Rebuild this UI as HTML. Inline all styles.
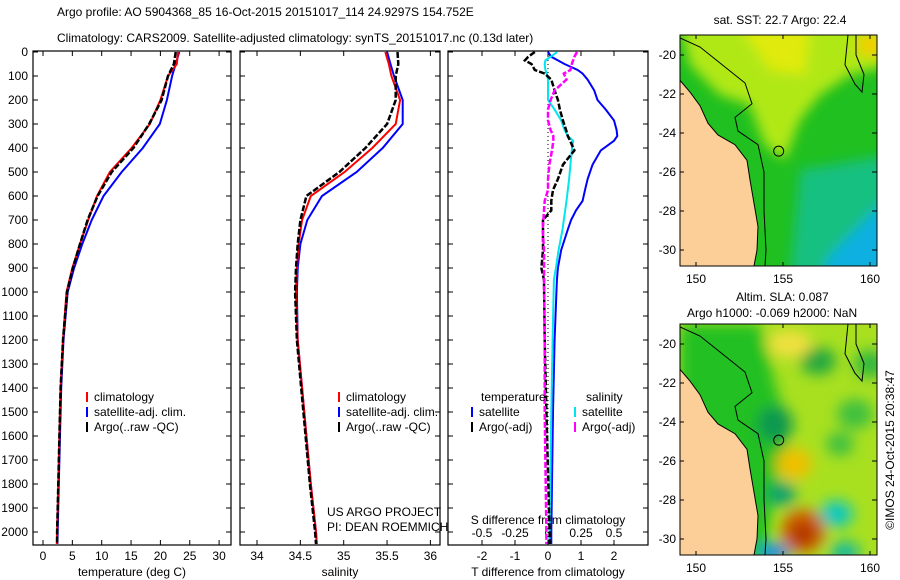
<!DOCTYPE html>
<html><head><meta charset="utf-8"><style>
body{margin:0;background:#fff;font-family:"Liberation Sans",sans-serif}
svg{display:block}
text{font-family:"Liberation Sans",sans-serif;font-size:12px;fill:#000}
</style></head><body>
<svg id="c" width="900" height="580" xmlns="http://www.w3.org/2000/svg">
<text x="57" y="16" font-size="13">Argo profile: AO 5904368_85 16-Oct-2015 20151017_114 24.9297S 154.752E</text>
<text x="57" y="42" font-size="13">Climatology: CARS2009. Satellite-adjusted climatology: synTS_20151017.nc (0.13d later)</text>
</svg>
<script>
const depthTicks=[0,100,200,300,400,500,600,700,800,900,1000,1100,1200,1300,1400,1500,1600,1700,1800,1900,2000];
const tempTicks=[0,5,10,15,20,25,30];
const salTicks=[34,34.5,35,35.5,36];
const tdTicks=[-2,-1,0,1,2];
const sdTicks=[-0.5,-0.25,0,0.25,0.5];
const depths=[0,50,100,200,300,400,500,600,700,800,900,1000,1200,1400,1600,1800,2000,2050];
const tempClim=[23,22.8,21.3,20.0,18.2,15.1,11.4,9.2,7.7,6.3,5.0,4.0,3.4,3.0,2.8,2.6,2.4,2.35];
const tempSat=[23.2,22.6,22.0,21.1,19.9,17.0,13.4,10.3,8.3,6.7,5.3,4.2,3.5,3.1,2.9,2.7,2.5,2.45];
const tempArgo=[22.6,22.3,21.3,20.2,18.1,15.4,11.7,9.3,7.6,6.3,5.1,4.1,3.4,3.0,2.8,2.6,2.4,2.4];
const salClim=[35.48,35.52,35.55,35.65,35.6,35.33,35.01,34.62,34.52,34.48,34.46,34.45,34.47,34.52,34.57,34.62,34.68,34.69];
const salSat=[35.5,35.54,35.58,35.68,35.68,35.45,35.15,34.75,34.58,34.5,34.47,34.46,34.47,34.52,34.57,34.62,34.68,34.69];
const salArgo=[35.62,35.63,35.6,35.6,35.5,35.25,34.95,34.57,34.5,34.47,34.45,34.44,34.46,34.51,34.56,34.61,34.67,34.68];
const dDepths=[0,20,35,50,75,90,115,160,200,240,285,325,350,370,410,470,530,575,620,660,700,740,825,900,950,1200,1500,2000,2050];
const tDiffSat=[0,0.1,0.3,0.5,0.9,1.05,1.2,1.4,1.5,1.75,2.0,2.08,2.1,2.0,1.6,1.35,1.2,1.12,1.05,0.85,0.7,0.6,0.4,0.3,0.27,0.2,0.15,0.1,0.1];
const tDiffArgo=[-0.4,-0.6,-0.7,-0.5,-0.4,-0.1,0.1,0.2,0.3,0.36,0.45,0.55,0.6,0.67,0.8,0.45,0.3,0.15,0.1,0.1,-0.15,-0.15,-0.15,-0.2,-0.12,-0.1,-0.05,0.05,0.05];
const sDiffSat=[0.07,0.02,-0.02,-0.025,-0.02,-0.01,0,0,0,0.05,0.1,0.125,0.15,0.19,0.18,0.17,0.16,0.15,0.14,0.13,0.12,0.11,0.08,0.06,0.045,0.035,0.025,0.012,0.01];
const sDiffArgo=[0.22,0.2,0.19,0.18,0.17,0.12,0.14,0.05,0.02,0,0,0.02,0.04,0.04,0.03,0.01,0,0,-0.025,-0.03,-0.035,-0.04,-0.03,-0.03,-0.03,-0.025,-0.025,-0.012,-0.012];
const lonTicks=[150,155,160];
const latTicks=[-20,-22,-24,-26,-28,-30];

const NS="http://www.w3.org/2000/svg";
const svg=document.getElementById('c');
function mk(t,a,p){const e=document.createElementNS(NS,t);for(const k in a)e.setAttribute(k,a[k]);(p||svg).appendChild(e);return e;}
const Y0=52,YPX=0.24,YB=545;
const y=d=>Y0+d*YPX;
const xT=v=>43+v*5.87, xS=v=>257+(v-34)*86.7, xD=v=>548+v*33, xSD=v=>548+v*132;

function panel(name,x0,x1){
  const r=mk('rect',{x:x0,y:Y0-1,width:x1-x0,height:YB-Y0+1,fill:'none',stroke:'#000','stroke-width':1.2});
  
  
  depthTicks.forEach(d=>{
    const t=mk('line',{x1:x0,x2:x0+5,y1:y(d),y2:y(d),stroke:'#000'});
    
    
    const t2=mk('line',{x1:x1-5,x2:x1,y1:y(d),y2:y(d),stroke:'#000'});
    
    
  });
}
function line(xs,ds,fx,color,w,dash,name){
  const pts=xs.map((v,i)=>fx(v).toFixed(1)+','+y(ds[i]).toFixed(1)).join(' ');
  const p=mk('polyline',{points:pts,fill:'none',stroke:color,'stroke-width':w});
  if(dash)p.setAttribute('stroke-dasharray',dash);
  
  
}
function txt(x,yy,s,name,anchor,size){
  const t=mk('text',{x:x,y:yy});t.textContent=s;
  if(anchor)t.setAttribute('text-anchor',anchor);
  if(size)t.setAttribute('font-size',size);
  
  
  return t;
}
function xticks(vals,fx,yl,name){
  vals.forEach(v=>{
    const X=fx(v);
    const a=mk('line',{x1:X,x2:X,y1:YB,y2:YB-5,stroke:'#000'});
    
    
    const b=mk('line',{x1:X,x2:X,y1:Y0-1,y2:Y0+4,stroke:'#000'});
    
    
    txt(X,yl,String(v),name+'-label','middle');
  });
}
// panel 1
panel('temperature-panel',33,231);
depthTicks.forEach(d=>txt(28,y(d)+4,String(d),'depth-label','end'));
xticks(tempTicks,xT,560,'temp-axis');
txt(132,576,'temperature (deg C)','temp-axis-title','middle');
line(tempSat,depths,xT,'#0000ff',2,null,'temp-satellite-line');
line(tempClim,depths,xT,'#ff0000',2,null,'temp-climatology-line');
line(tempArgo,depths,xT,'#000',2.5,'6,2','temp-argo-line');
// panel 2
panel('salinity-panel',240,440);
xticks(salTicks,xS,560,'sal-axis');
txt(340,576,'salinity','sal-axis-title','middle');
line(salSat,depths,xS,'#0000ff',2,null,'sal-satellite-line');
line(salClim,depths,xS,'#ff0000',2,null,'sal-climatology-line');
line(salArgo,depths,xS,'#000',2.5,'6,2','sal-argo-line');
// panel 3
panel('difference-panel',448,648);
xticks(tdTicks,xD,560,'tdiff-axis');
sdTicks.forEach(v=>txt(xSD(v),537,String(v),'sdiff-label','middle'));
txt(548,576,'T difference from climatology','tdiff-axis-title','middle');
txt(548,524,'S difference from climatology','sdiff-axis-title','middle');
mk('line',{x1:548,x2:548,y1:Y0,y2:YB,stroke:'#000','stroke-dasharray':'1,3'});
line(tDiffSat,dDepths,xD,'#0000ff',2,null,'tdiff-satellite-line');
line(sDiffSat,dDepths,xSD,'#00e5ee',2,null,'sdiff-satellite-line');
line(tDiffArgo,dDepths,xD,'#000',2.5,'6,2','tdiff-argo-line');
line(sDiffArgo,dDepths,xSD,'#ff00ff',2.5,'6,2','sdiff-argo-line');
// legends
function leg(x,yy,c,s,name){
  const l=mk('line',{x1:x,x2:x,y1:yy-9,y2:yy+1,stroke:c,'stroke-width':2});
  
  
  txt(x+7,yy,s,name);
}
leg(87,401,'#ff0000','climatology','legend-climatology');
leg(87,416,'#0000ff','satellite-adj. clim.','legend-satellite');
leg(87,431,'#000','Argo(..raw -QC)','legend-argo');
leg(339,401,'#ff0000','climatology','legend2-climatology');
leg(339,416,'#0000ff','satellite-adj. clim.','legend2-satellite');
leg(339,431,'#000','Argo(..raw -QC)','legend2-argo');
txt(481,401,'temperature','legend3-temperature-head');
txt(586,401,'salinity','legend3-salinity-head');
leg(472,416,'#0000ff','satellite','legend3-t-satellite');
leg(472,431,'#000','Argo(-adj)','legend3-t-argo');
leg(575,416,'#00e5ee','satellite','legend3-s-satellite');
leg(575,431,'#ff00ff','Argo(-adj)','legend3-s-argo');
txt(327,516,'US ARGO PROJECT','project-label');
txt(327,531,'PI: DEAN ROEMMICH','pi-label');

// maps
const lonX=lon=>696+(lon-150)*17.4;
function map(bt,name,kind){
  const m0=la=>bt+20+(-20-la)*19.5;
  const B=bt+231;
  const g=mk('g',{});
  
  
  const id='clip'+kind;
  const cp=mk('clipPath',{id:id},g);mk('rect',{x:680,y:bt,width:197,height:231},cp);
  const inner=mk('g',{'clip-path':'url(#'+id+')'},g);
  if(kind==='sst'){
    mk('rect',{x:680,y:bt,width:197,height:231,fill:'#20c020'},inner);
    const f=mk('filter',{id:'bl1'},g);mk('feGaussianBlur',{stdDeviation:6},f);
    const b=mk('g',{filter:'url(#bl1)'},inner);
    mk('polygon',{points:`680,${bt-10} 890,${bt-10} 890,${bt+30} 850,${bt+40} 820,${bt+60} 800,${bt+85} 785,${bt+125} 765,${bt+110} 750,${bt+70} 720,${bt+60} 690,${bt+30}`,fill:'#b0e818'},b);
    mk('polygon',{points:`740,${bt-10} 810,${bt-10} 805,${bt+40} 770,${bt+35}`,fill:'#e0ea10'},b);
    mk('ellipse',{cx:870,cy:bt+10,rx:14,ry:12,fill:'#f0d000'},b);
    mk('polygon',{points:`800,${bt+135} 890,${bt+120} 890,${bt+240} 790,${bt+240}`,fill:'#18c080'},b);
    mk('polygon',{points:`830,${bt+220} 890,${bt+160} 890,${bt+240} 820,${bt+240}`,fill:'#10b0e0'},b);
  } else {
    mk('rect',{x:680,y:bt,width:197,height:231,fill:'#a8e020'},inner);
    const f=mk('filter',{id:'bl'},g);mk('feGaussianBlur',{stdDeviation:7},f);
    const b=mk('g',{filter:'url(#bl)'},inner);
    mk('polygon',{points:`680,${bt} 760,${bt} 775,${bt+60} 790,${bt+110} 775,${bt+160} 765,${bt+240} 680,${bt+240}`,fill:'#20c020'},b);
    [[775,bt+100,18,18,'#109850'],[818,bt+37,18,14,'#20a840'],[870,bt+40,16,14,'#30b840'],[855,bt+90,18,15,'#40c040'],[840,bt+120,14,12,'#40c040'],[782,bt+170,14,12,'#10a070'],[836,bt+190,17,13,'#10c8c0'],[794,bt+140,18,16,'#f0c000'],[803,bt+207,22,22,'#d06000'],[803,bt+210,12,12,'#b03000'],[790,bt+20,22,14,'#f0e040'],[775,bt+228,15,8,'#0080ff'],[845,bt+228,15,10,'#10b8a0']].forEach(e=>mk('ellipse',{cx:e[0],cy:e[1],rx:e[2],ry:e[3],fill:e[4]},b));
  }
  mk('polygon',{points:`680,${m0(-21.3)} 690,${m0(-21.9)} 700,${m0(-22.6)} 708,${m0(-23.5)} 718,${m0(-24.1)} 735,${m0(-24.6)} 747,${m0(-25.4)} 750,${m0(-26.4)} 754,${m0(-27.6)} 758,${m0(-28.8)} 757,${m0(-30)} 754,${B} 680,${B}`,fill:'#fccf98',stroke:'#000'},inner);
  mk('polyline',{points:`680,${bt+3} 700,${bt+12} 720,${bt+28} 745,${bt+48} 752,${m0(-22.5)} 735,${m0(-23.2)} 738,${m0(-23.9)} 758,${m0(-24.6)} 764,${m0(-26)} 764,${m0(-28)} 766,${m0(-30)} 765,${B}`,fill:'none',stroke:'#000'},inner);
  mk('polyline',{points:`848,${bt} 845,${m0(-20.5)} 855,${m0(-21.5)} 862,${m0(-21.9)} 864,${m0(-21)} 856,${m0(-20)} 856,${bt}`,fill:'none',stroke:'#000'},inner);
  mk('circle',{cx:lonX(154.752),cy:m0(-24.93),r:5,fill:'none',stroke:'#000'},inner);
  mk('rect',{x:680,y:bt,width:197,height:231,fill:'none',stroke:'#000'},g);
  latTicks.forEach(la=>{const Y=m0(la);mk('line',{x1:877,x2:872,y1:Y,y2:Y,stroke:'#000'},g);mk('line',{x1:680,x2:684,y1:Y,y2:Y,stroke:'#000'},g);txt(676,Y+4,String(la),name+'-lat-label','end');});
  lonTicks.forEach(lo=>{const X=lonX(lo);mk('line',{x1:X,x2:X,y1:B,y2:B-4,stroke:'#000'},g);mk('line',{x1:X,x2:X,y1:bt,y2:bt+4,stroke:'#000'},g);txt(X,B+17,String(lo),name+'-lon-label','middle');});
}
map(35,'sst-map','sst');
map(324,'sla-map','sla');
txt(780,24,'sat. SST: 22.7 Argo: 22.4','sst-map-title','middle');
txt(736,301,'Altim. SLA: 0.087','sla-map-title-1');
txt(687,317,'Argo h1000: -0.069 h2000: NaN','sla-map-title-2');
const cr=txt(0,0,'©IMOS 24-Oct-2015 20:38:47','imos-credit','middle');
cr.setAttribute('transform','translate(894,450) rotate(-90)');
</script>
</body></html>
